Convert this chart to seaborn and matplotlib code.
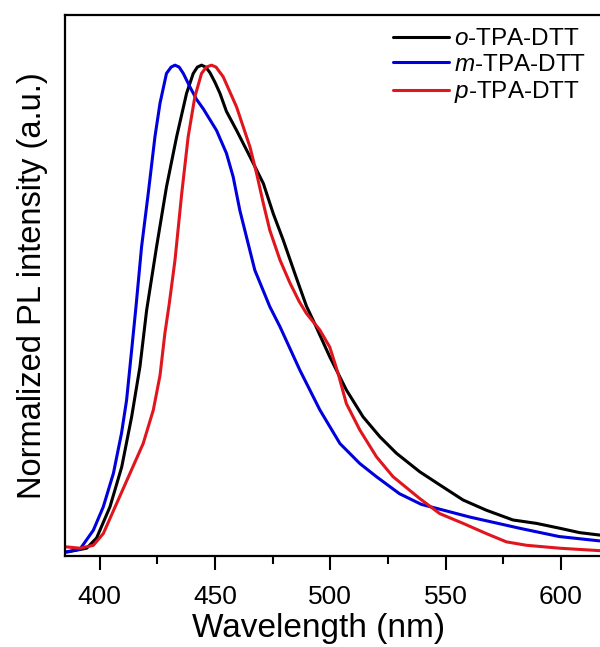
import numpy as np
import pandas as pd
import matplotlib
matplotlib.use("Agg")
import matplotlib.pyplot as plt
import seaborn as sns

# PL spectra (wavelength nm, normalized intensity)
o_wl = [385.7, 394.4, 398.7, 404.5, 409.6, 413.9, 417.5, 420.4, 424.7, 429.0,
        433.4, 437.7, 440.6, 442.4, 444.2, 446.0, 447.8, 450.0, 452.2, 455.0,
        459.4, 465.2, 471.0, 475.3, 479.6, 485.4, 489.7, 492.6, 499.8, 507.0,
        514.2, 521.5, 528.7, 538.8, 547.5, 557.6, 567.7, 579.2, 589.4, 599.5,
        608.1, 616.8]
o_int = [0.000, 0.008, 0.029, 0.093, 0.175, 0.278, 0.381, 0.497, 0.627, 0.750,
         0.853, 0.942, 0.983, 0.996, 1.000, 0.996, 0.985, 0.965, 0.942, 0.905,
         0.866, 0.812, 0.757, 0.695, 0.641, 0.562, 0.505, 0.476, 0.401, 0.333,
         0.278, 0.237, 0.203, 0.165, 0.138, 0.107, 0.086, 0.066, 0.059, 0.049,
         0.040, 0.035]

m_wl = [385.0, 391.5, 397.3, 401.6, 406.0, 409.5, 411.7, 413.9, 415.8, 418.2,
        421.1, 424.0, 426.2, 429.0, 431.0, 432.7, 434.5, 436.3, 439.2, 442.0,
        445.0, 450.7, 455.0, 457.9, 460.8, 463.7, 467.3, 473.8, 478.2, 486.8,
        495.5, 504.2, 512.8, 520.0, 530.0, 539.5, 560.5, 582.1, 599.2, 616.8]
m_int = [0.000, 0.006, 0.045, 0.093, 0.162, 0.244, 0.312, 0.415, 0.505, 0.627,
         0.737, 0.853, 0.922, 0.983, 0.996, 1.000, 0.996, 0.983, 0.955, 0.930,
         0.910, 0.866, 0.819, 0.771, 0.702, 0.647, 0.579, 0.504, 0.463, 0.374,
         0.292, 0.223, 0.182, 0.155, 0.120, 0.098, 0.072, 0.049, 0.032, 0.023]

p_wl = [385.0, 391.5, 397.3, 401.6, 407.4, 413.2, 418.9, 423.3, 426.2, 428.3,
        430.2, 432.7, 435.6, 438.4, 441.3, 444.2, 446.3, 448.5, 450.5, 453.6,
        459.4, 465.2, 468.1, 471.0, 473.8, 478.2, 482.5, 486.5, 489.7, 495.5,
        499.8, 503.4, 507.0, 512.8, 520.0, 527.2, 538.8, 547.5, 557.6, 567.7,
        576.4, 585.1, 599.5, 616.8]
p_int = [0.011, 0.008, 0.014, 0.038, 0.100, 0.162, 0.223, 0.292, 0.363, 0.449,
         0.510, 0.600, 0.736, 0.853, 0.935, 0.983, 0.996, 1.000, 0.996, 0.976,
         0.914, 0.832, 0.777, 0.716, 0.661, 0.600, 0.553, 0.515, 0.490, 0.456,
         0.421, 0.367, 0.305, 0.251, 0.196, 0.155, 0.110, 0.079, 0.059, 0.038,
         0.021, 0.014, 0.008, 0.003]

labels = [r"$\it{o}$-TPA-DTT", r"$\it{m}$-TPA-DTT", r"$\it{p}$-TPA-DTT"]
colors = ["#000000", "#0000DD", "#E0161E"]

sns.set_style("ticks", rc={"axes.edgecolor": "black", "xtick.color": "black",
                           "ytick.color": "black", "text.color": "black",
                           "axes.labelcolor": "black"})
plt.rcParams["font.family"] = ["Liberation Sans", "DejaVu Sans"]
plt.rcParams["mathtext.fontset"] = "custom"
plt.rcParams["mathtext.it"] = "Liberation Sans:italic"
plt.rcParams["mathtext.rm"] = "Liberation Sans"

fig = plt.figure(figsize=(6.0, 6.47), dpi=100)
ax = fig.add_axes([65 / 600, (647 - 556) / 647, (607 - 65) / 600, (556 - 15) / 647])

for wl, inten, lab, col in zip([o_wl, m_wl, p_wl], [o_int, m_int, p_int], labels, colors):
    df = pd.DataFrame({"wl": wl, "I": inten})
    sns.lineplot(data=df, x="wl", y="I", color=col, lw=2.2, label=lab, ax=ax)

ax.set_xlim(385, 620)
ax.set_ylim(-0.008, 1.103)
ax.set_xticks([400, 450, 500, 550, 600])
ax.set_xticks(np.arange(425, 620, 50), minor=True)
ax.set_yticks([])
ax.tick_params(axis="x", which="major", length=10, width=1.5, labelsize=19, pad=11)
ax.tick_params(axis="x", which="minor", length=6, width=1.5)
for s in ax.spines.values():
    s.set_linewidth(1.6)

ax.set_xlabel("Wavelength (nm)", fontsize=24, labelpad=2)
ax.xaxis.set_label_coords(0.467, -0.105)
ax.set_ylabel("Normalized PL intensity (a.u.)", fontsize=23.5, labelpad=12)

ax.legend(loc="upper right", bbox_to_anchor=(586 / 600, 1 - 28 / 647),
          bbox_transform=fig.transFigure, frameon=False, fontsize=17.5,
          handlelength=2.3, handletextpad=0.2, labelspacing=0.15, borderpad=0,
          borderaxespad=0)

fig.savefig("out.png", dpi=100)
